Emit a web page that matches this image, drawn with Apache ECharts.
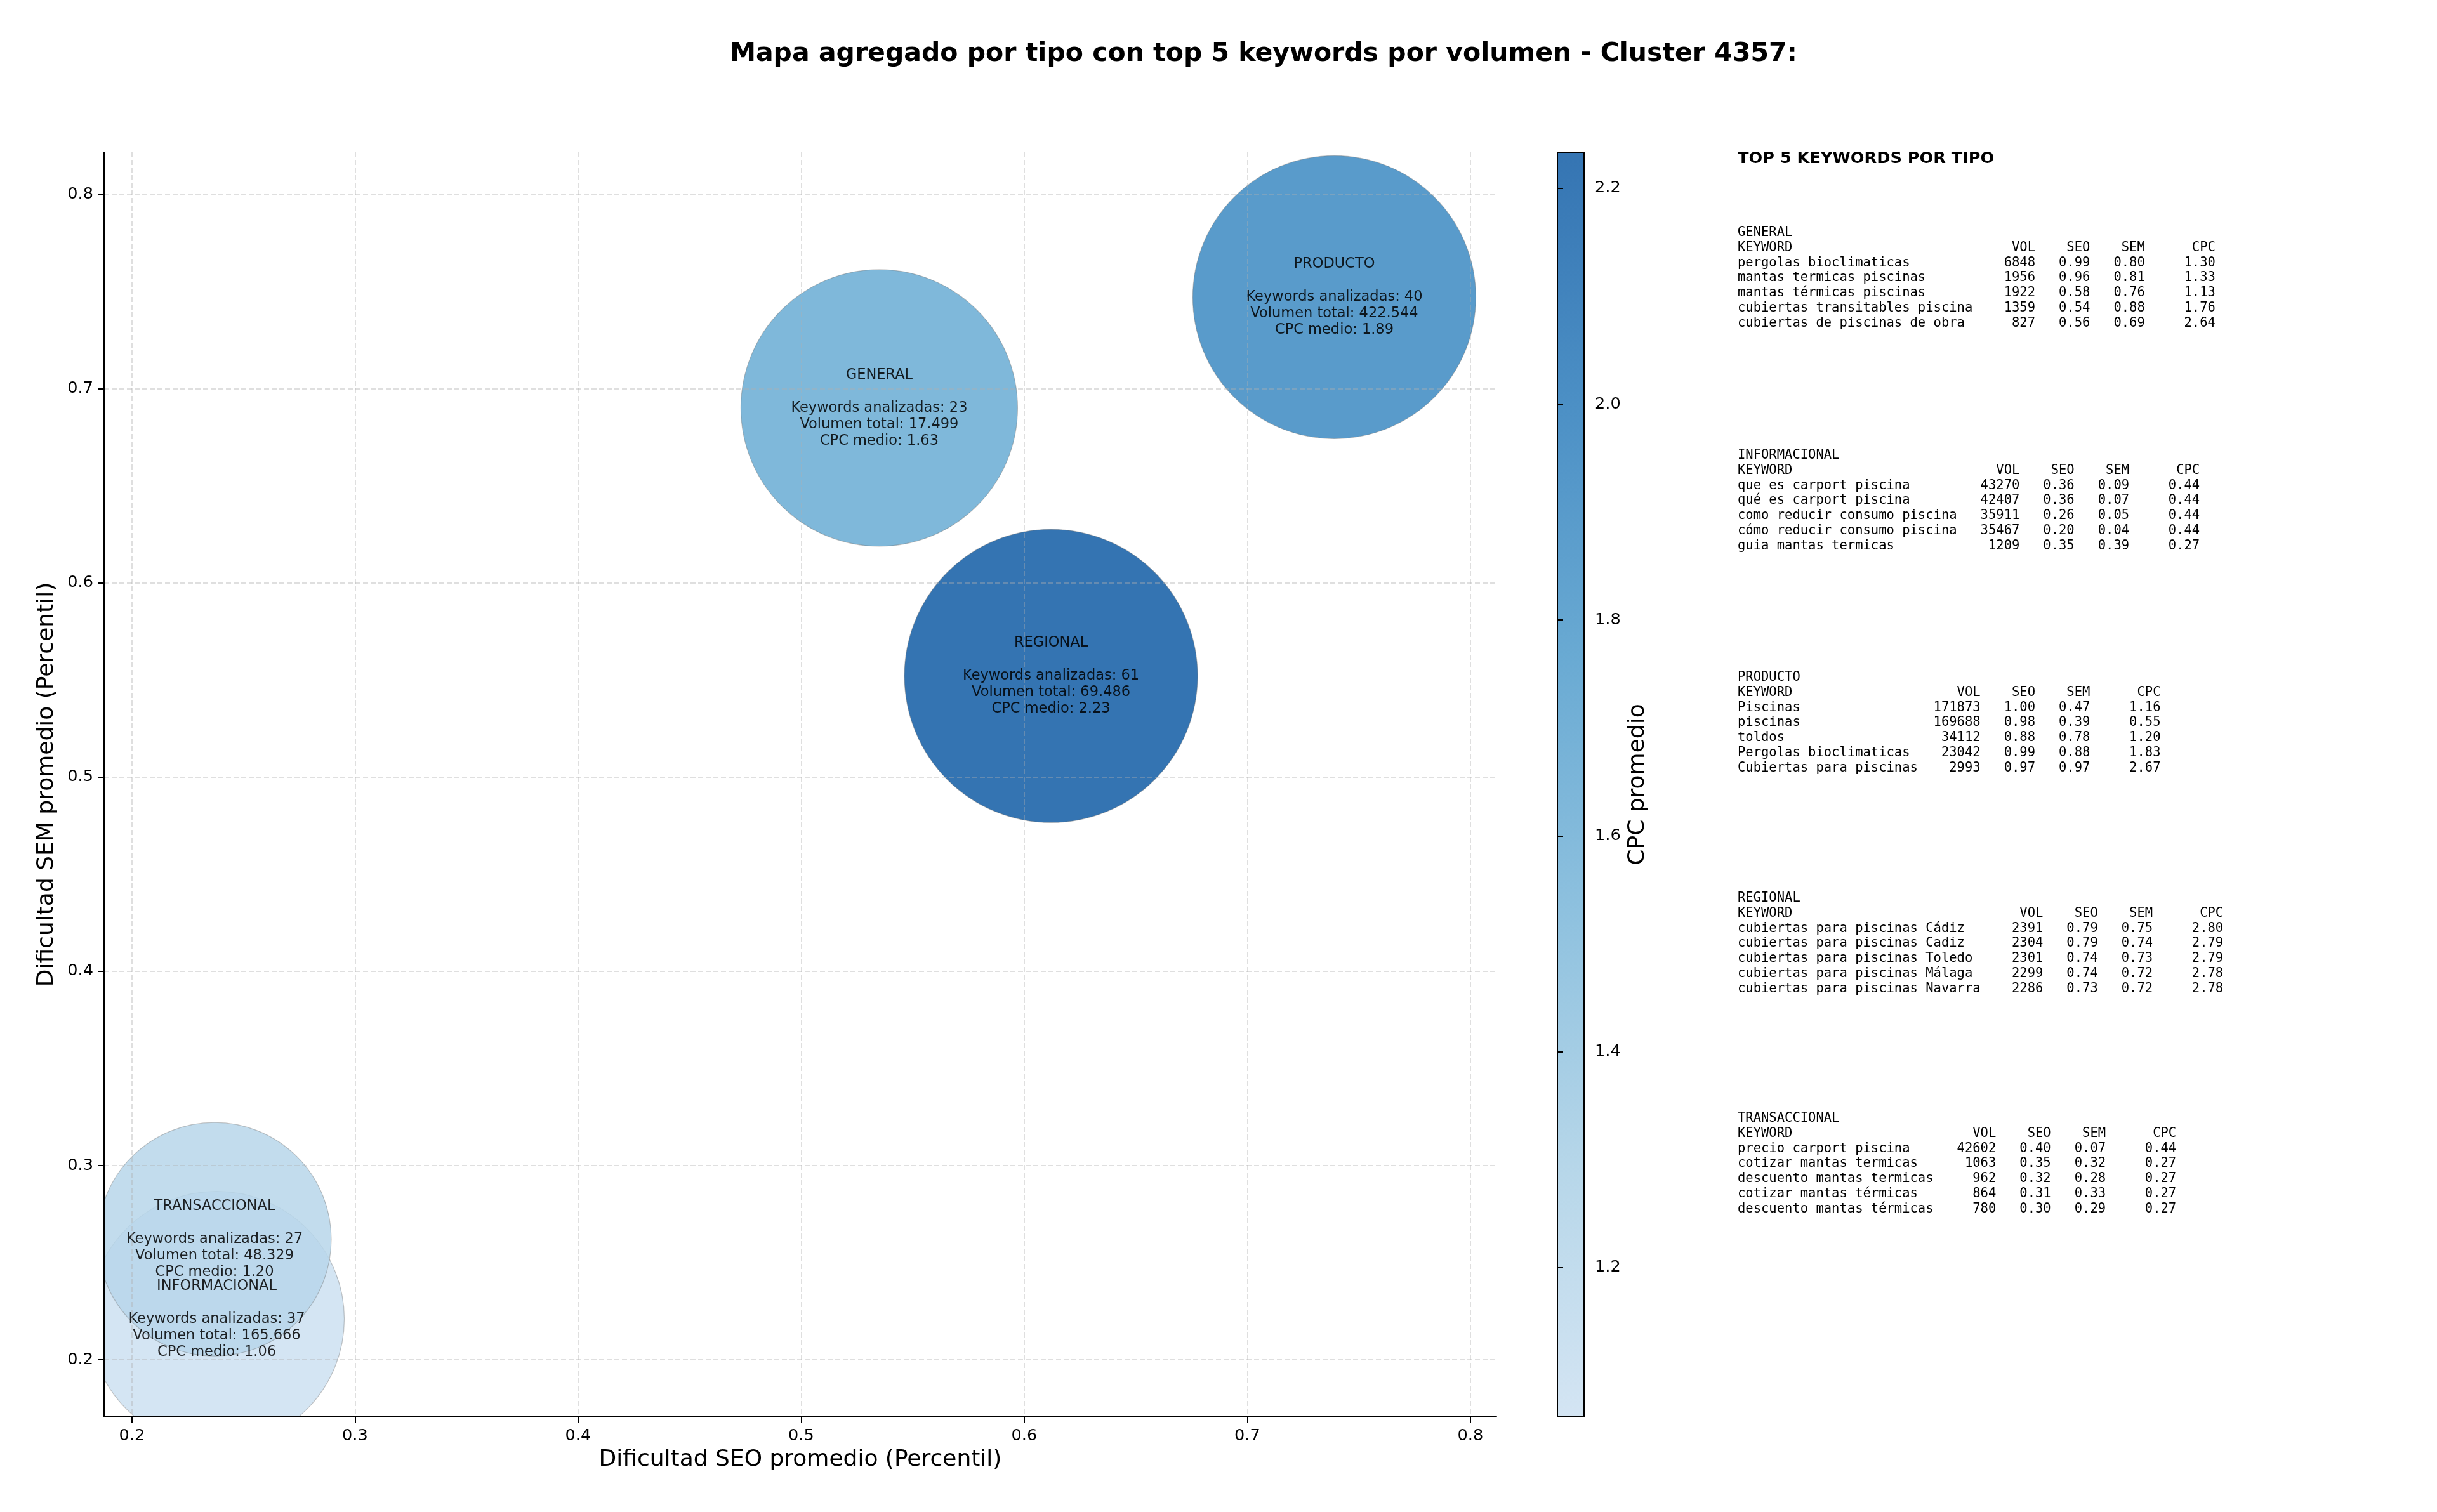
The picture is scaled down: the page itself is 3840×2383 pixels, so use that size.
<!DOCTYPE html>
<html>
<head>
<meta charset="utf-8">
<title>Mapa agregado por tipo</title>
<script src="https://cdn.jsdelivr.net/npm/echarts@6.0.0/dist/echarts.min.js"></script>
<style>
  html, body { margin: 0; padding: 0; background: #fff; }
  #chart { width: 3840px; height: 2383px; }
</style>
</head>
<body>
<div id="chart"></div>
<script>
// aggregated values per keyword type
const tipos = ['GENERAL', 'INFORMACIONAL', 'PRODUCTO', 'REGIONAL', 'TRANSACCIONAL'];
const seoPromedio = [0.535, 0.238, 0.739, 0.612, 0.237];
const semPromedio = [0.690, 0.221, 0.747, 0.552, 0.262];
const cpcMedio = [1.63, 1.06, 1.89, 2.23, 1.20];
const numKeywords = [23, 37, 40, 61, 27];
const volumenTotal = [17499, 165666, 422544, 69486, 48329];

// tick labels
const xTicks = [0.2, 0.3, 0.4, 0.5, 0.6, 0.7, 0.8];
const yTicks = [0.2, 0.3, 0.4, 0.5, 0.6, 0.7, 0.8];
const cbTicks = [1.2, 1.4, 1.6, 1.8, 2.0, 2.2];

// top 5 keywords per type: keyword, vol, seo, sem, cpc
const topGeneral = [
  ['pergolas bioclimaticas', 6848, 0.99, 0.80, 1.30],
  ['mantas termicas piscinas', 1956, 0.96, 0.81, 1.33],
  ['mantas térmicas piscinas', 1922, 0.58, 0.76, 1.13],
  ['cubiertas transitables piscina', 1359, 0.54, 0.88, 1.76],
  ['cubiertas de piscinas de obra', 827, 0.56, 0.69, 2.64]
];
const topInformacional = [
  ['que es carport piscina', 43270, 0.36, 0.09, 0.44],
  ['qué es carport piscina', 42407, 0.36, 0.07, 0.44],
  ['como reducir consumo piscina', 35911, 0.26, 0.05, 0.44],
  ['cómo reducir consumo piscina', 35467, 0.20, 0.04, 0.44],
  ['guia mantas termicas', 1209, 0.35, 0.39, 0.27]
];
const topProducto = [
  ['Piscinas', 171873, 1.00, 0.47, 1.16],
  ['piscinas', 169688, 0.98, 0.39, 0.55],
  ['toldos', 34112, 0.88, 0.78, 1.20],
  ['Pergolas bioclimaticas', 23042, 0.99, 0.88, 1.83],
  ['Cubiertas para piscinas', 2993, 0.97, 0.97, 2.67]
];
const topRegional = [
  ['cubiertas para piscinas Cádiz', 2391, 0.79, 0.75, 2.80],
  ['cubiertas para piscinas Cadiz', 2304, 0.79, 0.74, 2.79],
  ['cubiertas para piscinas Toledo', 2301, 0.74, 0.73, 2.79],
  ['cubiertas para piscinas Málaga', 2299, 0.74, 0.72, 2.78],
  ['cubiertas para piscinas Navarra', 2286, 0.73, 0.72, 2.78]
];
const topTransaccional = [
  ['precio carport piscina', 42602, 0.40, 0.07, 0.44],
  ['cotizar mantas termicas', 1063, 0.35, 0.32, 0.27],
  ['descuento mantas termicas', 962, 0.32, 0.28, 0.27],
  ['cotizar mantas térmicas', 864, 0.31, 0.33, 0.27],
  ['descuento mantas térmicas', 780, 0.30, 0.29, 0.27]
];

// ---- styling / layout ----
const FONT = '"DejaVu Sans"';
const MONO = '"DejaVu Sans Mono"';
const bubbleDiam = [436, 402, 446, 462, 368];
const blues = ['#cce0f1', '#a9cfe5', '#7ab6d9', '#4f9bcb', '#2c7cbb', '#115ca5'];
const plot = { left: 164, top: 240, width: 2194, height: 1993 };
const cbar = { left: 2454, top: 240, width: 42, height: 1993 };

const cbMin = Math.min(...cpcMedio) + 0.0017;
const cbMax = Math.max(...cpcMedio) + 0.0033;

function fmtVol(v) {
  return String(v).replace(/\B(?=(\d{3})+(?!\d))/g, '.');
}

function tableText(tipo, rows) {
  let w = Math.max(...rows.map(r => r[0].length));
  let lines = [tipo,
    'KEYWORD'.padEnd(w) + 'VOL'.padStart(8) + 'SEO'.padStart(7) + 'SEM'.padStart(7) + 'CPC'.padStart(9)];
  rows.forEach(r => {
    lines.push(r[0].padEnd(w) + String(r[1]).padStart(8) + r[2].toFixed(2).padStart(7) +
      r[3].toFixed(2).padStart(7) + r[4].toFixed(2).padStart(9));
  });
  return lines.join('\n');
}

const tables = [topGeneral, topInformacional, topProducto, topRegional, topTransaccional];
const tableCenters = [367, 718, 1068, 1416, 1763];
const lineH = 23.7;

let graphics = [
  // hide the part of the bubbles outside the axes
  { type: 'rect', z: 5, shape: { x: 0, y: 200, width: plot.left - 1, height: 2183 }, style: { fill: '#fff' } },
  { type: 'rect', z: 5, shape: { x: 0, y: plot.top + plot.height + 1, width: 2420, height: 200 }, style: { fill: '#fff' } },
  // colorbar
  {
    type: 'rect', z: 1,
    shape: { x: cbar.left, y: cbar.top, width: cbar.width, height: cbar.height },
    style: {
      opacity: 0.85,
      fill: {
        type: 'linear', x: 0, y: 1, x2: 0, y2: 0,
        colorStops: blues.map((c, i) => ({ offset: i / (blues.length - 1), color: c }))
      }
    }
  },
  {
    type: 'rect', z: 11,
    shape: { x: cbar.left, y: cbar.top, width: cbar.width, height: cbar.height },
    style: { fill: 'none', stroke: '#000', lineWidth: 2 }
  },
  {
    type: 'text', x: 2738, y: 250,
    style: { text: 'TOP 5 KEYWORDS POR TIPO', font: 'bold 25.6px ' + FONT, fill: '#000', verticalAlign: 'middle' }
  }
];
tables.forEach((rows, i) => {
  graphics.push({
    type: 'text', x: 2738, y: tableCenters[i] - lineH / 2,
    style: {
      text: tableText(tipos[i], rows), font: '20.5px ' + MONO, fill: '#000',
      lineHeight: lineH, verticalAlign: 'top'
    }
  });
});

const tickStyle = { length: 9, lineStyle: { color: '#000', width: 2 } };
const labelStyle = { fontSize: 25.6, color: '#000', fontFamily: FONT, margin: 17, formatter: v => Number(v).toFixed(1) };
const gridLine = { show: true, lineStyle: { type: [8, 4], color: 'rgba(176,176,176,0.4)', width: 2 } };

let option = {
  backgroundColor: '#fff',
  animation: false,
  title: {
    text: 'Mapa agregado por tipo con top 5 keywords por volumen - Cluster 4357:',
    left: 1986, top: 60, textAlign: 'center',
    textStyle: { fontSize: 41, fontWeight: 'bold', fontFamily: FONT, color: '#000' }
  },
  grid: [
    { left: plot.left, top: plot.top, width: plot.width, height: plot.height },
    { left: cbar.left, top: cbar.top, width: cbar.width, height: cbar.height }
  ],
  xAxis: [
    {
      gridIndex: 0, type: 'value', min: 0.1875, max: 0.8117, z: 10,
      name: 'Dificultad SEO promedio (Percentil)', nameLocation: 'middle', nameGap: 50,
      nameTextStyle: { fontSize: 36, color: '#000', fontFamily: FONT },
      axisLine: { onZero: false, lineStyle: { color: '#000', width: 2 } },
      axisTick: Object.assign({ customValues: xTicks }, tickStyle),
      axisLabel: Object.assign({ customValues: xTicks }, labelStyle),
      splitLine: gridLine
    },
    { gridIndex: 1, type: 'value', min: 0, max: 1, show: false }
  ],
  yAxis: [
    {
      gridIndex: 0, type: 'value', min: 0.1706, max: 0.8216, z: 10,
      name: 'Dificultad SEM promedio (Percentil)', nameLocation: 'middle', nameRotate: 90, nameGap: 72,
      nameTextStyle: { fontSize: 36, color: '#000', fontFamily: FONT },
      axisLine: { show: true, onZero: false, lineStyle: { color: '#000', width: 2 } },
      axisTick: Object.assign({ show: true, customValues: yTicks }, tickStyle),
      axisLabel: Object.assign({ customValues: yTicks }, labelStyle),
      splitLine: gridLine
    },
    {
      gridIndex: 1, type: 'value', position: 'right', min: cbMin, max: cbMax, z: 10,
      name: 'CPC promedio', nameLocation: 'middle', nameRotate: 90, nameGap: 67,
      nameTextStyle: { fontSize: 36, color: '#000', fontFamily: FONT },
      axisLine: { show: false },
      axisTick: Object.assign({ show: true, customValues: cbTicks }, tickStyle),
      axisLabel: Object.assign({ customValues: cbTicks }, labelStyle),
      splitLine: { show: false }
    }
  ],
  visualMap: {
    show: false, type: 'continuous', seriesIndex: 0, dimension: 2,
    min: cbMin, max: cbMax, inRange: { color: blues }
  },
  graphic: graphics,
  series: [
    {
      type: 'scatter', xAxisIndex: 0, yAxisIndex: 0, z: 2,
      data: tipos.map((t, i) => ({
        name: t,
        value: [seoPromedio[i], semPromedio[i], cpcMedio[i], numKeywords[i], volumenTotal[i]],
        symbolSize: bubbleDiam[i]
      })),
      itemStyle: { opacity: 0.85, borderColor: 'rgba(110,110,110,0.45)', borderWidth: 1.2 },
      label: {
        show: true, position: 'inside', color: '#000', fontSize: 22.5, lineHeight: 26,
        fontFamily: FONT, align: 'center',
        formatter: p => p.name + '\n\nKeywords analizadas: ' + p.value[3] +
          '\nVolumen total: ' + fmtVol(p.value[4]) + '\nCPC medio: ' + p.value[2].toFixed(2)
      },
      emphasis: { disabled: true }
    },
    { type: 'scatter', xAxisIndex: 1, yAxisIndex: 1, data: [] }
  ]
};

let myChart = echarts.init(document.getElementById('chart'));
myChart.setOption(option);
</script>
</body>
</html>
